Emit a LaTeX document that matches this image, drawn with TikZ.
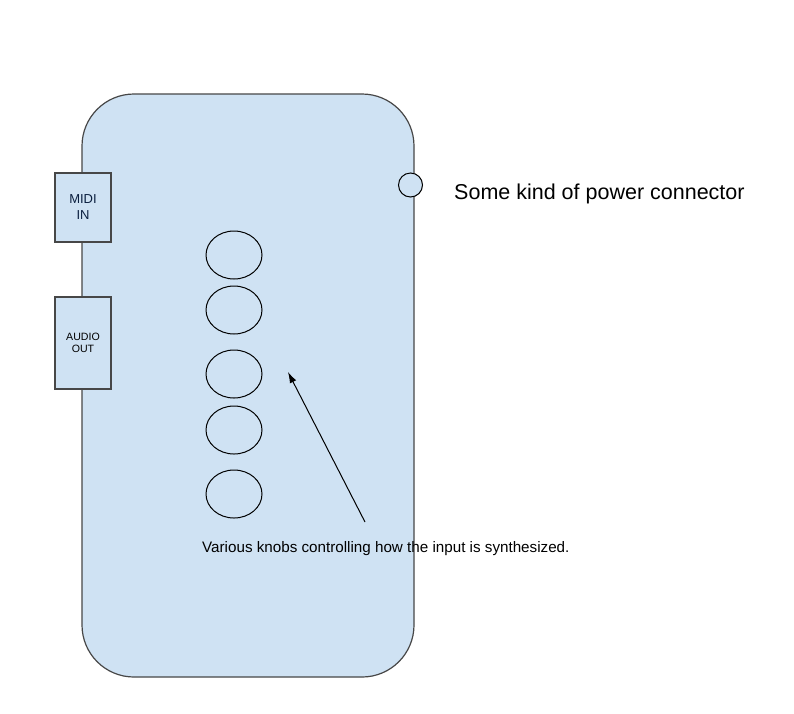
\documentclass[tikz,border=0pt]{standalone}
\usepackage{fontspec}
\setmainfont{Liberation Sans}
\usepackage{tikz}
\usetikzlibrary{positioning}
\usetikzlibrary{shapes.geometric}
\usetikzlibrary{arrows.meta}
\definecolor{bodyblue}{HTML}{CFE2F3}
\definecolor{edgegray}{HTML}{474747}
\definecolor{midinavy}{HTML}{0B1F3F}
\pgfdeclarelayer{background}
\pgfdeclarelayer{foreground}
\pgfsetlayers{background,main,foreground}

\begin{document}
\begin{tikzpicture}[x=1pt,y=-1pt,
						bodynode/.style={rectangle, rounded corners=52pt, draw=edgegray, fill=bodyblue, line width=1.2pt, minimum width=332pt, minimum height=583pt, inner sep=0pt},
						portnode/.style={rectangle, draw=edgegray, fill=bodyblue, line width=1.2pt, minimum width=56pt, inner sep=0pt, align=center},
						knobnode/.style={ellipse, draw=black, line width=1pt, minimum width=56pt, minimum height=48pt, inner sep=0pt},
						powernode/.style={circle, draw=black, fill=bodyblue, line width=1pt, minimum size=24pt, inner sep=0pt},
						labelnode/.style={anchor=west, inner sep=0pt},
						]
						\useasboundingbox (0,0) rectangle (794,713);
						\fill[white] (0,0) rectangle (794,713);
						%Nodes
						\node[bodynode]      (body) 	at 	(248,385.5)      {};
						\node[portnode, minimum height=69pt, text=midinavy, font=\fontsize{13}{16}\selectfont]      (midi) 	at 	(83,207.5)      {MIDI\\IN};
						\node[portnode, minimum height=92pt, font=\fontsize{10.6}{12}\selectfont]      (audio) 	at 	(83,343)      {AUDIO\\OUT};
						\node[powernode]      (power) 	at 	(410.5,185)      {};
						\node[labelnode, font=\fontsize{21.5}{26}\selectfont]      (powerlabel) 	at 	(454,193.5)      {Some kind of power connector};
						\node[knobnode]      (k1) 	at 	(234,255)      {};
						\node[knobnode]      (k2) 	at 	(234,310)      {};
						\node[knobnode]      (k3) 	at 	(234,374)      {};
						\node[knobnode]      (k4) 	at 	(234,430)      {};
						\node[knobnode]      (k5) 	at 	(234,494)      {};
						\node[labelnode, font=\fontsize{15.2}{18}\selectfont]      (knoblabel) 	at 	(202,548.5)      {Various knobs controlling how the input is synthesized.};
						\coordinate      (tail) 	at 	(365,522);
						\coordinate      (tip) 	at 	(288,372);

						%Lines
						\draw[line width=1pt,-{Latex[length=11pt,width=7pt]}] (tail) -- (tip);
					\end{tikzpicture}
\end{document}
